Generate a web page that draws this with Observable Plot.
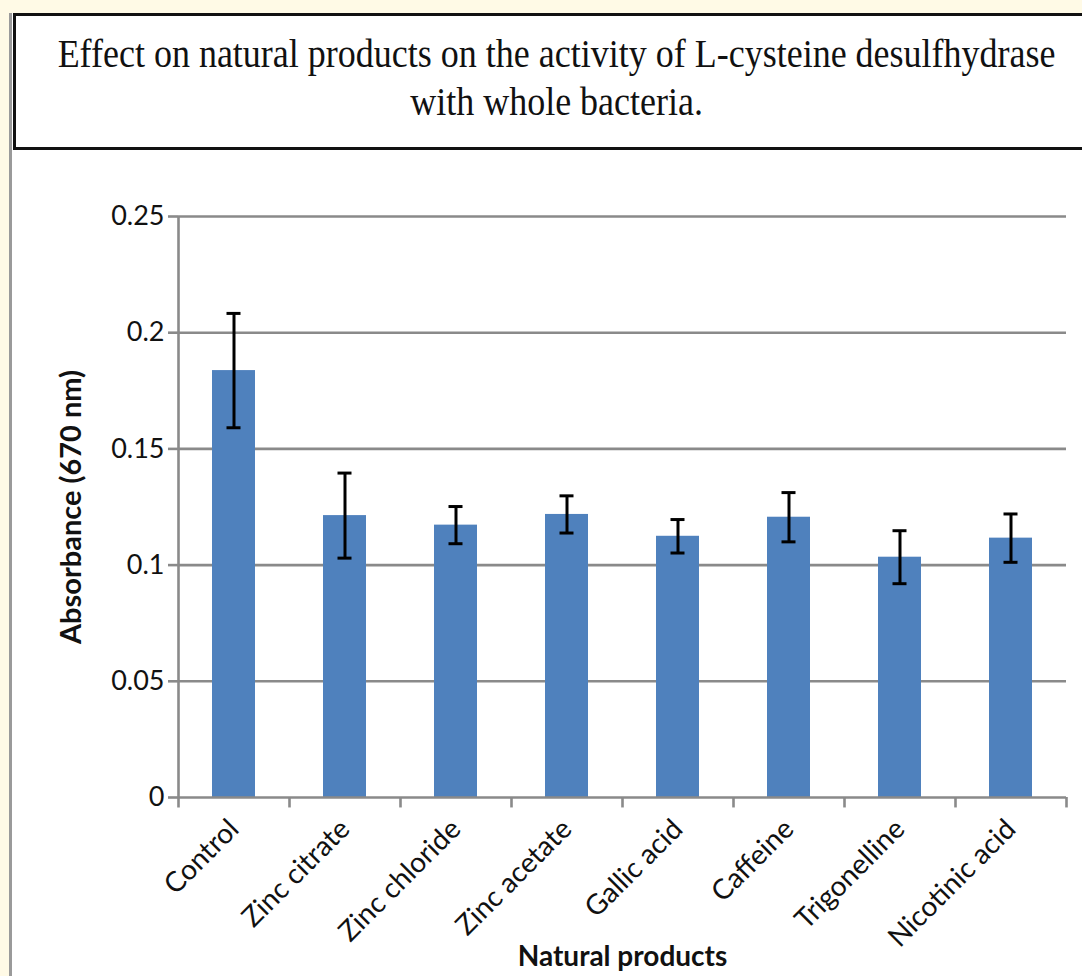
<!DOCTYPE html>
<html>
<head>
<meta charset="utf-8">
<script src="https://cdn.jsdelivr.net/npm/d3@7"></script>
<script src="https://cdn.jsdelivr.net/npm/@observablehq/plot@0.6"></script>
<style>
  html, body { margin: 0; padding: 0; width: 1082px; height: 976px; overflow: hidden; background: #fffae6; }
  #panel { position: absolute; left: 9px; top: 13px; width: 1100px; height: 1000px; background: #ffffff; border-left: 3px solid #9a9a9a; }
  #title { position: absolute; left: 13px; top: 13px; width: 1086px; height: 137px; border: 3px solid #111; background: #fff;
           box-sizing: border-box; color: #111; text-align: center; padding-top: 14px; }
  #title span { display: inline-block; font-family: "Liberation Serif", "Times New Roman", serif; font-size: 39px; line-height: 48px;
           transform: scaleX(0.923); transform-origin: center; white-space: nowrap; }
  #chart { position: absolute; left: 12px; top: 150px; }
</style>
</head>
<body>
<div id="panel"></div>
<div id="title"><span>Effect on natural products on the activity of L-cysteine desulfhydrase<br>with whole bacteria.</span></div>
<div id="chart"></div>
<script>
const categories = ["Control", "Zinc citrate", "Zinc chloride", "Zinc acetate", "Gallic acid", "Caffeine", "Trigonelline", "Nicotinic acid"];
const absorbance = [0.1837, 0.1213, 0.1172, 0.1218, 0.1124, 0.1206, 0.1034, 0.1116];
const errors = [0.0246, 0.0183, 0.0080, 0.0080, 0.0072, 0.0106, 0.0114, 0.0104];
const yTicks = [0, 0.05, 0.1, 0.15, 0.2, 0.25];
const yTickLabels = ["0", "0.05", "0.1", "0.15", "0.2", "0.25"];
const yLabel = "Absorbance (670 nm)";
const xLabel = "Natural products";

const data = categories.map((c, i) => ({category: c, value: absorbance[i], err: errors[i]}));

const W = 1070, H = 826, ML = 166, MR = 16, MT = 66, MB = 179;
const step = (W - ML - MR) / categories.length;
const gray = "#8a8a8a";

const chart = Plot.plot({
  width: W, height: H,
  marginLeft: ML, marginRight: MR, marginTop: MT, marginBottom: MB,
  style: {fontFamily: "Lato, 'Open Sans', sans-serif", fontSize: "26px", color: "#111", background: "transparent", overflow: "visible"},
  x: {domain: categories, paddingInner: 0.61, paddingOuter: 0.305},
  y: {domain: [0, 0.25]},
  marks: [
    Plot.ruleY(yTicks.filter(t => t > 0), {stroke: gray, strokeWidth: 2.6}),
    Plot.barY(data, {x: "category", y: "value", fill: "#4f81bd"}),
    Plot.ruleY([0], {stroke: gray, strokeWidth: 2.6}),
    Plot.ruleX([categories[0]], {x: d => d, dx: -step / 2, y1: -0.0045, y2: 0.25, stroke: gray, strokeWidth: 2.6}),
    Plot.ruleX(categories.slice(1), {x: d => d, dx: -step / 2, y1: -0.0045, y2: 0, stroke: gray, strokeWidth: 2.6}),
    Plot.ruleX([categories[categories.length - 1]], {x: d => d, dx: step / 2, y1: -0.0045, y2: 0, stroke: gray, strokeWidth: 2.6}),
    Plot.axisY({ticks: yTicks, tickFormat: d => yTickLabels[yTicks.indexOf(d)], tickSize: 10, tickPadding: 4, stroke: gray, strokeWidth: 2.6, label: null, fontSize: 27}),
    Plot.axisX({tickRotate: -45, tickSize: 0, tickPadding: 27, label: null, fontSize: 28}),
    Plot.ruleX(data, {x: "category", y1: d => d.value - d.err, y2: d => d.value + d.err, stroke: "#000", strokeWidth: 3}),
    Plot.tickY(data, {x: "category", y: d => d.value + d.err, stroke: "#000", strokeWidth: 3, insetLeft: 14.5, insetRight: 14.5}),
    Plot.tickY(data, {x: "category", y: d => d.value - d.err, stroke: "#000", strokeWidth: 3, insetLeft: 14.5, insetRight: 14.5}),
    Plot.text([yLabel], {text: d => d, frameAnchor: "left", dx: -107, rotate: -90, textAnchor: "middle", lineAnchor: "middle", fontWeight: "bold", fontSize: 29, fill: "#111"}),
    Plot.text([xLabel], {text: d => d, frameAnchor: "bottom", dy: 160, textAnchor: "middle", lineAnchor: "middle", fontWeight: "bold", fontSize: 28, fill: "#111"})
  ]
});
document.getElementById("chart").appendChild(chart);
</script>
</body>
</html>
